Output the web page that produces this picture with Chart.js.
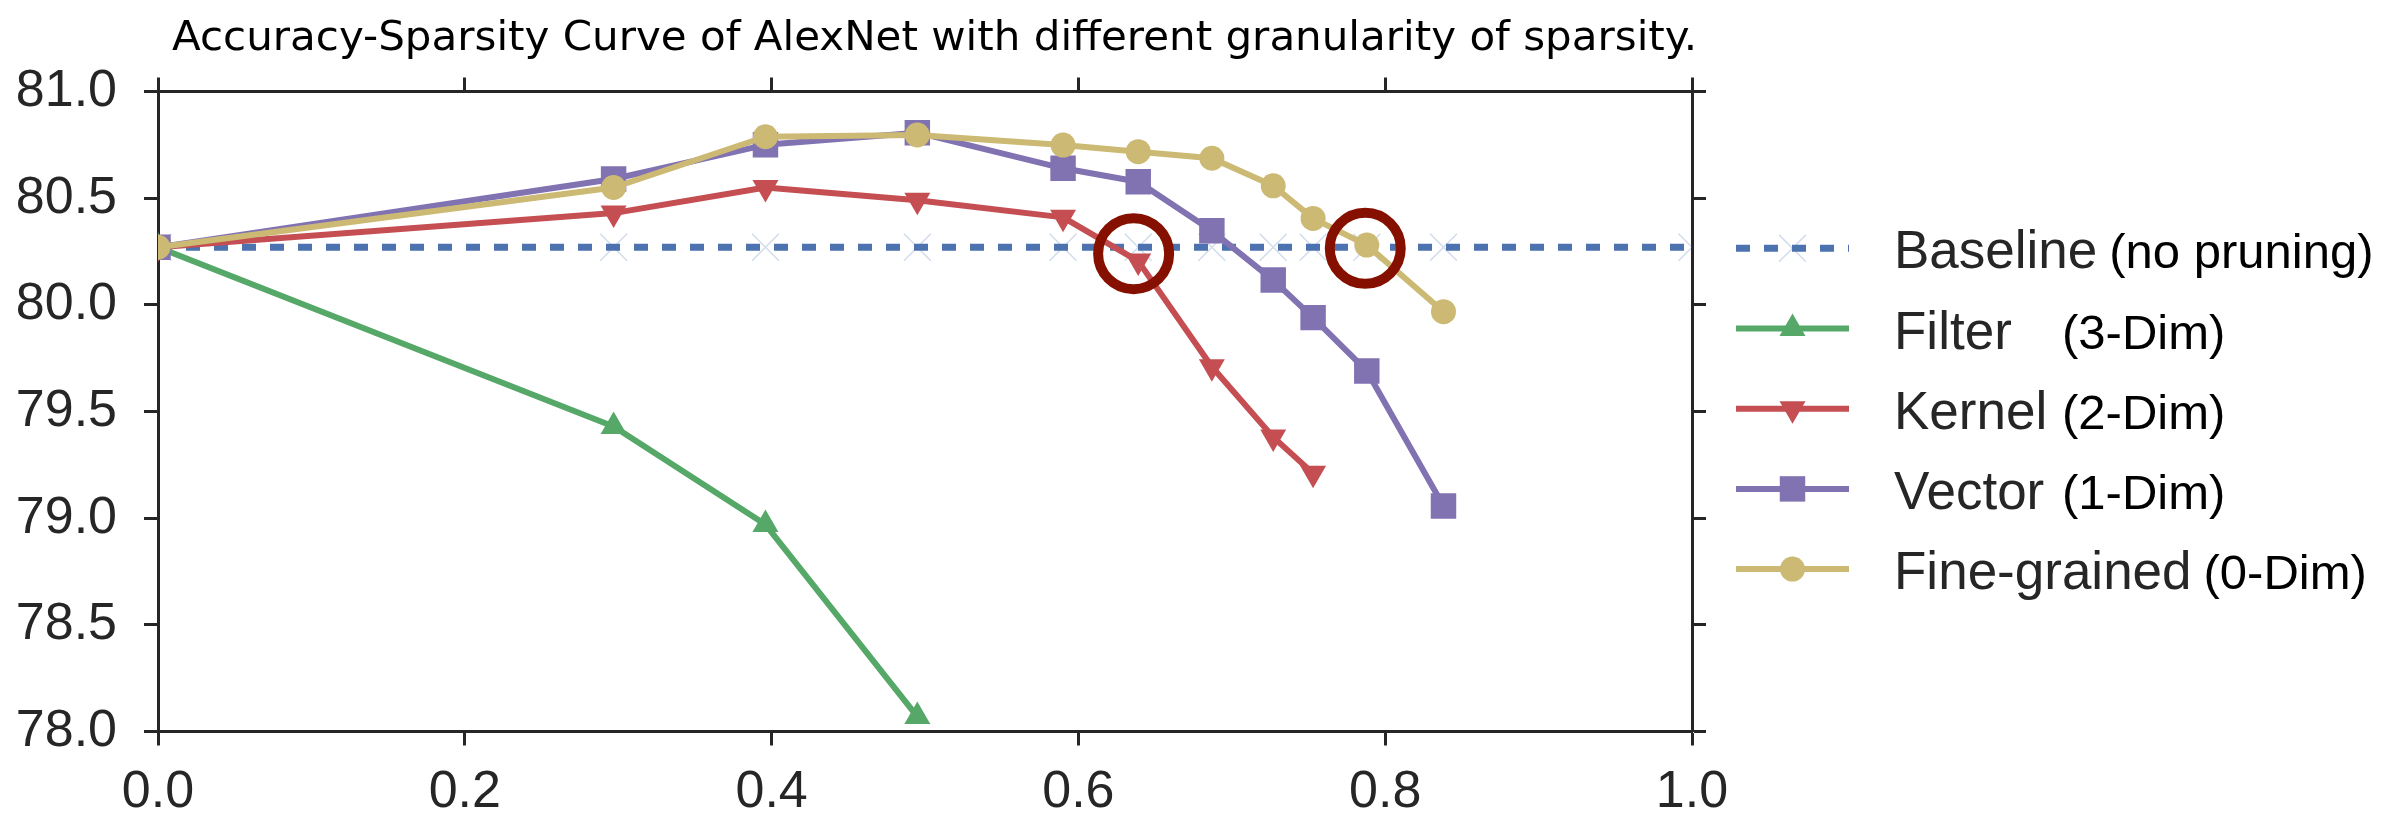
<!DOCTYPE html>
<html>
<head>
<meta charset="utf-8">
<script src="https://cdn.jsdelivr.net/npm/chart.js@4.4.1/dist/chart.umd.min.js"></script>
<style>
  html, body { margin: 0; padding: 0; background: #fff; }
  canvas { display: block; }
</style>
</head>
<body>
<canvas id="myChart" width="2386" height="814"></canvas>
<script>
// sparsity values (x) and top-1 accuracy (y)
const sparsityBaseline = [0, 0.297, 0.396, 0.495, 0.590, 0.639, 0.687, 0.727, 0.753, 0.788, 0.838, 1.0];
const accBaseline = [80.27, 80.27, 80.27, 80.27, 80.27, 80.27, 80.27, 80.27, 80.27, 80.27, 80.27, 80.27];

const sparsityFilter = [0, 0.297, 0.396, 0.495];
const accFilter = [80.27, 79.43, 78.97, 78.07];

const sparsityKernel = [0, 0.297, 0.396, 0.495, 0.590, 0.639, 0.687, 0.727, 0.753];
const accKernel = [80.27, 80.43, 80.55, 80.49, 80.41, 80.205, 79.71, 79.38, 79.21];

const sparsityVector = [0, 0.297, 0.396, 0.495, 0.590, 0.639, 0.687, 0.727, 0.753, 0.788, 0.838];
const accVector = [80.27, 80.59, 80.75, 80.807, 80.64, 80.577, 80.347, 80.116, 79.94, 79.69, 79.057];

const sparsityFine = [0, 0.297, 0.396, 0.495, 0.590, 0.639, 0.687, 0.727, 0.753, 0.788, 0.838];
const accFine = [80.27, 80.55, 80.788, 80.796, 80.749, 80.718, 80.687, 80.558, 80.405, 80.28, 79.968];

// the two red rings
const highlightX = [0.636, 0.787];
const highlightY = [80.24, 80.265];

const xTicks = [0, 0.2, 0.4, 0.6, 0.8, 1.0];
const yTicks = [78.0, 78.5, 79.0, 79.5, 80.0, 80.5, 81.0];

const seriesNames = ['Baseline', 'Filter', 'Kernel', 'Vector', 'Fine-grained'];
const seriesDims = ['(no pruning)', '(3-Dim)', '(2-Dim)', '(1-Dim)', '(0-Dim)'];
const titleText = 'Accuracy-Sparsity Curve of AlexNet with different granularity of sparsity.';

const FONT = '"Liberation Sans", Arial, sans-serif';
const AXIS = '#262626';

function pts(xs, ys) {
  return xs.map((x, i) => ({ x: x, y: ys[i] }));
}

// title is drawn by hand so it can sit in the top padding
const titlePlugin = {
  id: 'figTitle',
  afterDraw(chart) {
    const ctx = chart.ctx;
    ctx.save();
    ctx.font = '41.7px "DejaVu Sans", sans-serif';
    ctx.fillStyle = '#000';
    ctx.textAlign = 'center';
    ctx.textBaseline = 'alphabetic';
    const w = ctx.measureText(titleText).width;
    ctx.translate(934.5, 50);
    ctx.scale(1525 / w, 1);
    ctx.fillText(titleText, 0, 0);
    ctx.restore();
  }
};

// legend on the right with the "(n-Dim)" notes in a second style
const legendPlugin = {
  id: 'sideLegend',
  afterDraw(chart) {
    const ctx = chart.ctx;
    const x0 = 1736, x1 = 1849, xm = (x0 + x1) / 2, textX = 1894;
    seriesNames.forEach((name, i) => {
      const ds = chart.data.datasets[i];
      const y = 248.3 + i * 80.2;
      ctx.save();
      ctx.strokeStyle = ds.borderColor;
      ctx.lineWidth = ds.borderWidth;
      ctx.setLineDash(ds.borderDash || []);
      ctx.beginPath();
      ctx.moveTo(x0, y);
      ctx.lineTo(x1, y);
      ctx.stroke();
      ctx.setLineDash([]);
      ctx.fillStyle = ds.pointBackgroundColor;
      ctx.strokeStyle = ds.pointBorderColor;
      ctx.lineWidth = ds.pointBorderWidth;
      Chart.helpers.drawPoint(ctx, {
        pointStyle: ds.pointStyle,
        radius: ds.pointRadius,
        rotation: ds.pointRotation || 0,
        borderWidth: ds.pointBorderWidth
      }, xm, y);

      ctx.textAlign = 'left';
      ctx.textBaseline = 'alphabetic';
      ctx.font = '53px ' + FONT;
      ctx.fillStyle = '#262626';
      ctx.fillText(name, textX, y + 20);
      const nw = ctx.measureText(name).width;
      ctx.font = '49px ' + FONT;
      ctx.fillStyle = '#000';
      ctx.fillText(seriesDims[i], Math.max(textX + nw + 12, 2062), y + 20);
      ctx.restore();
    });
  }
};

function lineSet(label, xs, ys, color, style, radius, extra) {
  return Object.assign({
    label: label,
    data: pts(xs, ys),
    borderColor: color,
    backgroundColor: color,
    borderWidth: 6,
    borderJoinStyle: 'round',
    pointStyle: style,
    pointRadius: radius,
    pointHoverRadius: radius,
    pointBackgroundColor: color,
    pointBorderColor: color,
    pointBorderWidth: 0,
    tension: 0,
    clip: 0
  }, extra || {});
}

const tickFont = { family: FONT, size: 52 };

const ctx = document.getElementById('myChart').getContext('2d');
const myChart = new Chart(ctx, {
  type: 'line',
  data: {
    datasets: [
      lineSet('Baseline', sparsityBaseline, accBaseline, '#4C72B0', 'crossRot', 19, {
        borderWidth: 7,
        borderDash: [14, 14],
        pointBorderColor: 'rgba(76,114,176,0.25)',
        pointBackgroundColor: 'rgba(76,114,176,0.25)',
        pointBorderWidth: 1.5,
        order: 6
      }),
      lineSet('Filter', sparsityFilter, accFilter, '#55A868', 'triangle', 15, { order: 5 }),
      lineSet('Kernel', sparsityKernel, accKernel, '#C44E52', 'triangle', 15, { pointRotation: 180, order: 4 }),
      lineSet('Vector', sparsityVector, accVector, '#8172B2', 'rect', 18, { order: 3 }),
      lineSet('Fine-grained', sparsityFine, accFine, '#CCB974', 'circle', 12.5, { order: 2 }),
      {
        label: 'highlight',
        data: pts(highlightX, highlightY),
        showLine: false,
        pointStyle: 'circle',
        pointRadius: 35.5,
        pointHoverRadius: 35.5,
        pointBorderWidth: 10,
        pointBorderColor: '#861000',
        pointBackgroundColor: 'rgba(0,0,0,0)',
        clip: 0,
        order: 1
      }
    ]
  },
  options: {
    responsive: false,
    animation: false,
    devicePixelRatio: 1,
    events: [],
    layout: { padding: { left: 0, right: 694, top: 91.5, bottom: 0 } },
    plugins: {
      legend: { display: false },
      tooltip: { enabled: false },
      title: { display: false }
    },
    scales: {
      x: {
        type: 'linear', position: 'bottom', min: 0, max: 1,
        afterBuildTicks: s => { s.ticks = xTicks.map(v => ({ value: v })); },
        afterFit: s => { s.height = 82.5; },
        ticks: { callback: v => Number(v).toFixed(1), font: tickFont, color: AXIS, padding: 16, maxRotation: 0, autoSkip: false },
        grid: { display: true, drawOnChartArea: false, drawTicks: true, tickLength: 14, tickWidth: 3, tickColor: AXIS },
        border: { display: true, width: 3, color: AXIS }
      },
      x2: {
        type: 'linear', position: 'top', min: 0, max: 1,
        afterBuildTicks: s => { s.ticks = xTicks.map(v => ({ value: v })); },
        afterFit: s => { s.height = 0; },
        ticks: { display: false },
        grid: { display: true, drawOnChartArea: false, drawTicks: true, tickLength: 14, tickWidth: 3, tickColor: AXIS },
        border: { display: true, width: 3, color: AXIS }
      },
      y: {
        type: 'linear', position: 'left', min: 78, max: 81,
        afterBuildTicks: s => { s.ticks = yTicks.map(v => ({ value: v })); },
        afterFit: s => { s.width = 158; },
        ticks: { callback: v => Number(v).toFixed(1), font: tickFont, color: AXIS, padding: 27, autoSkip: false },
        grid: { display: true, drawOnChartArea: false, drawTicks: true, tickLength: 14, tickWidth: 3, tickColor: AXIS },
        border: { display: true, width: 3, color: AXIS }
      },
      y2: {
        type: 'linear', position: 'right', min: 78, max: 81,
        afterBuildTicks: s => { s.ticks = yTicks.map(v => ({ value: v })); },
        afterFit: s => { s.width = 0; },
        ticks: { display: false },
        grid: { display: true, drawOnChartArea: false, drawTicks: true, tickLength: 14, tickWidth: 3, tickColor: AXIS },
        border: { display: true, width: 3, color: AXIS }
      }
    }
  },
  plugins: [titlePlugin, legendPlugin]
});
</script>
</body>
</html>
